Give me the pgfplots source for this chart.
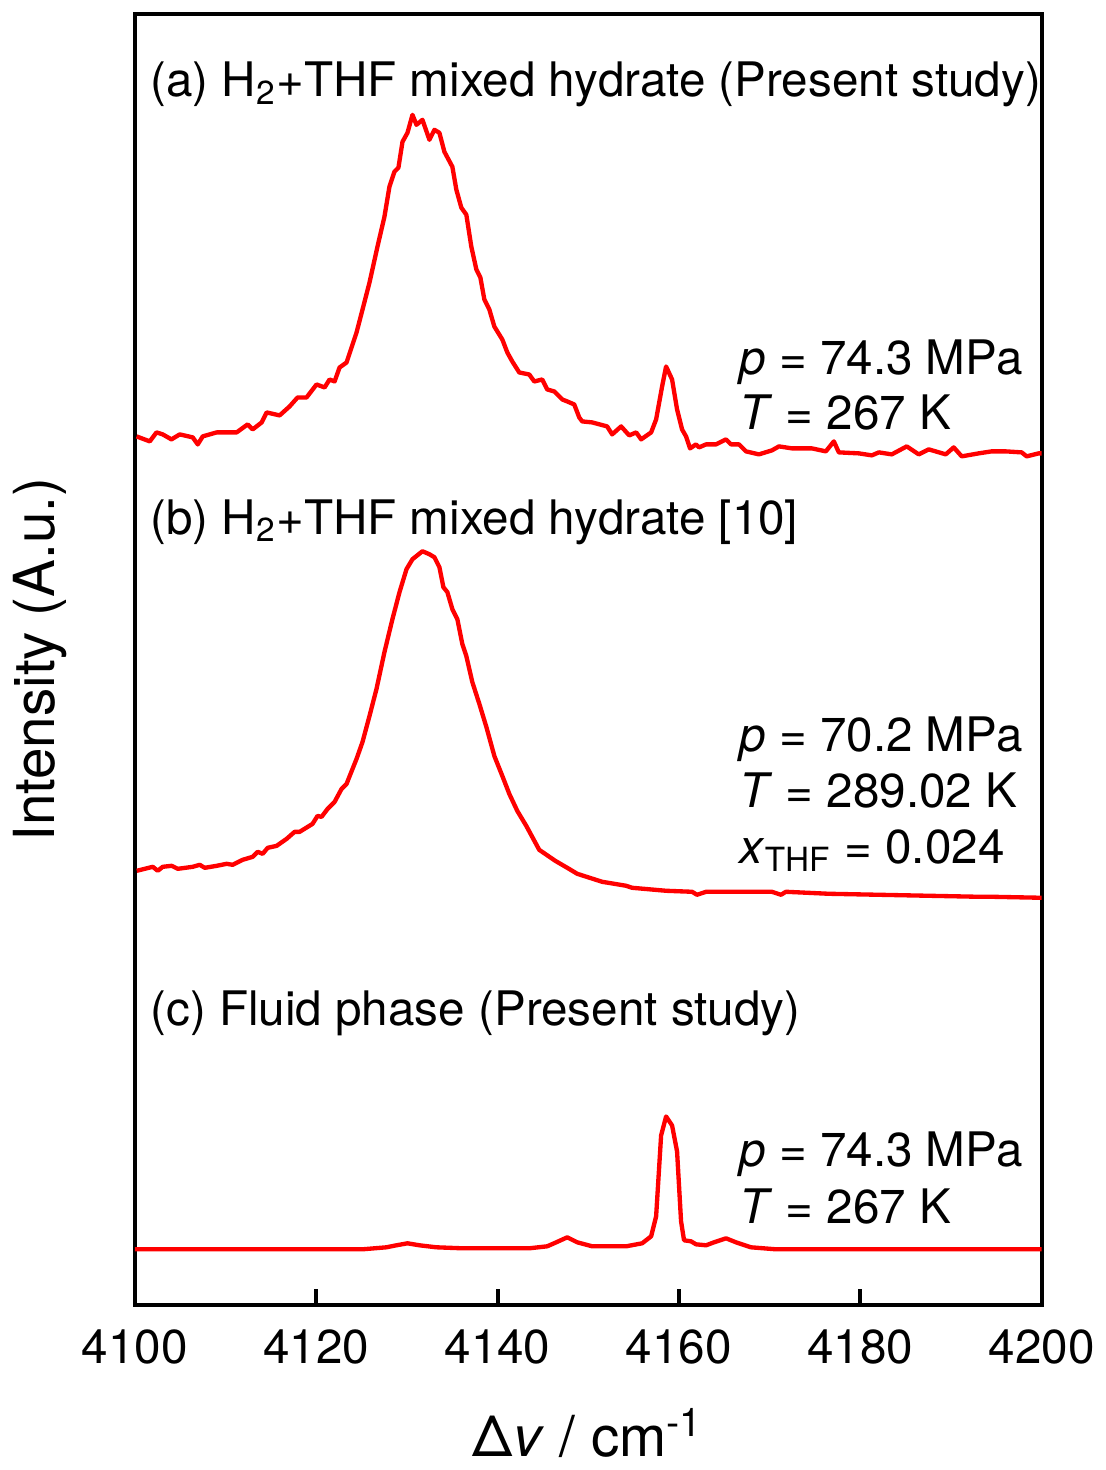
\documentclass[border=0pt]{standalone}
\usepackage{pgfplots}
\pgfplotsset{compat=1.18}
\usepackage{fontspec}
\setmainfont{TeX Gyre Heros}
\definecolor{specred}{RGB}{255,0,0}
\newcommand{\lbl}{\fontsize{14.3}{17}\selectfont}
\newcommand{\axl}{\fontsize{17}{20}\selectfont}
\tikzset{
  spec/.style={specred, line width=1.3pt, line join=round},
  txt/.style={font=\lbl, anchor=base west, inner sep=0pt},
}

\begin{document}
\begin{tikzpicture}
\begin{axis}[
  scale only axis, width=272.4pt, height=387.9pt,
  xmin=4100, xmax=4200, ymin=0, ymax=1293,
  xtick={4100,4120,...,4200}, ytick=\empty,
  xtick pos=bottom, tick align=inside, major tick length=5pt,
  tick style={line width=1.2pt, black},
  axis line style={line width=1.2pt},
  /pgf/number format/assume math mode=true,
  /pgf/number format/set thousands separator={},
  xticklabel style={font=\lbl, anchor=base, yshift=-17.4pt},
  xlabel={Δ\textit{v} / cm\textsuperscript{-1}},
  ylabel={Intensity (A.u.)},
  xlabel style={font=\axl, at={(axis description cs:0.5,-0.1175)}, anchor=base, inner sep=0pt},
  ylabel style={font=\axl, at={(axis description cs:-0.0738,0.5)}, anchor=south, inner sep=0pt},
]
% (a) H2+THF mixed hydrate, present study
\addplot[spec] coordinates {
 (4100.19,870) (4101.65,865) (4102.39,874) (4103.08,872) (4104.04,867) (4104.96,872)
 (4106.39,869) (4106.94,862) (4107.49,870) (4109.03,874) (4110.13,874) (4111.23,874)
 (4112.44,882) (4113.00,877) (4113.99,884) (4114.54,894) (4115.97,891) (4117.07,900)
 (4117.95,909) (4118.94,909) (4120.04,922) (4120.93,919) (4121.48,927) (4122.03,925)
 (4122.58,939) (4123.35,944) (4124.45,974) (4125.11,997) (4125.88,1024) (4126.76,1060)
 (4127.53,1090) (4128.08,1120) (4128.63,1135) (4129.07,1139) (4129.52,1165) (4130.07,1174)
 (4130.62,1192) (4131.06,1182) (4131.72,1187) (4132.49,1167) (4133.04,1177) (4133.59,1174)
 (4134.14,1155) (4135.02,1140) (4135.46,1117) (4136.01,1099) (4136.56,1092) (4137.11,1060)
 (4137.67,1037) (4138.11,1029) (4138.55,1007) (4139.10,997) (4139.65,980) (4140.53,967)
 (4141.08,954) (4141.63,945) (4142.40,934) (4143.50,932) (4144.05,925) (4144.93,927)
 (4145.48,917) (4146.26,915) (4147.14,907) (4147.69,905) (4148.46,902) (4149.01,889)
 (4149.34,885) (4150.44,884) (4152.09,880) (4152.64,872) (4153.63,880) (4154.52,871)
 (4155.29,874) (4155.84,867) (4156.94,874) (4157.49,887) (4158.15,920) (4158.59,940)
 (4159.25,927) (4159.80,897) (4160.35,877) (4160.79,870) (4161.23,858) (4161.89,862)
 (4162.22,859) (4163.00,862) (4164.10,862) (4165.20,867) (4165.75,862) (4166.63,862)
 (4167.40,855) (4168.83,852) (4170.26,856) (4171.04,860) (4172.47,858) (4174.67,858)
 (4176.21,855) (4177.09,865) (4177.64,854) (4179.85,853) (4181.28,851) (4182.05,854)
 (4183.48,852) (4185.13,860) (4186.45,852) (4187.56,857) (4189.43,852) (4190.31,859)
 (4191.19,850) (4193.06,853) (4194.49,855) (4196.04,855) (4197.80,854) (4198.35,850)
 (4199.67,853) (4200,853)
};
% (b) H2+THF mixed hydrate [10]
\addplot[spec] coordinates {
 (4100.22,435) (4101.98,439) (4102.53,435) (4103.08,439) (4104.07,440) (4104.74,437)
 (4106.39,439) (4107.16,441) (4107.71,438) (4109.03,440) (4110.13,442) (4110.79,441)
 (4111.89,446) (4113.00,449) (4113.55,454) (4114.10,452) (4114.65,458) (4115.64,460)
 (4116.74,467) (4117.62,474) (4118.17,474) (4119.60,482) (4120.15,490) (4120.59,489)
 (4121.26,497) (4122.03,504) (4122.80,517) (4123.35,522) (4124.45,547) (4125.11,564)
 (4125.88,590) (4126.65,617) (4127.53,654) (4128.41,687) (4129.19,714) (4129.96,737)
 (4130.62,747) (4131.72,755) (4132.49,752) (4133.04,749) (4133.59,739) (4134.03,719)
 (4134.47,714) (4135.02,697) (4135.57,687) (4136.12,662) (4136.56,650) (4137.22,624)
 (4138.00,602) (4138.77,579) (4139.65,550) (4140.53,530) (4141.30,512) (4142.18,495)
 (4143.17,480) (4144.60,456) (4146.37,445) (4147.69,438) (4148.79,432) (4151.54,424)
 (4154.19,420) (4154.85,418) (4158.59,415) (4161.45,414) (4162.00,411) (4163.00,414)
 (4165.86,414) (4170.26,414) (4171.26,411) (4171.81,414) (4176.54,412) (4182.05,411)
 (4187.56,410) (4193.06,409) (4194.49,409) (4200,408)
};
% (c) fluid phase
\addplot[spec] coordinates {
 (4100,56) (4125.11,56) (4127.75,58) (4128.85,60) (4130.07,62) (4131.39,60) (4133.26,58)
 (4136.12,57) (4143.50,57) (4145.48,59) (4146.48,63) (4147.69,68) (4148.79,63)
 (4150.44,59) (4154.19,59) (4155.95,62) (4156.94,69) (4157.49,89) (4158.04,170)
 (4158.59,189) (4159.25,180) (4159.80,154) (4160.24,84) (4160.57,65) (4161.34,64)
 (4161.89,61) (4163.00,60) (4163.88,63) (4165.20,67) (4166.30,63) (4167.95,58)
 (4170.70,56) (4200,56)
};
% annotations
\node[txt] at (axis cs:4101.65,1210) {(a) H\textsubscript{2}+THF mixed hydrate (Present study)};
\node[txt] at (axis cs:4166.6,932) {\textit{p} = 74.3 MPa};
\node[txt] at (axis cs:4166.6,877) {\textit{T} = 267 K};
\node[txt] at (axis cs:4101.65,772) {(b) H\textsubscript{2}+THF mixed hydrate [10]};
\node[txt] at (axis cs:4166.6,554) {\textit{p} = 70.2 MPa};
\node[txt] at (axis cs:4166.6,498) {\textit{T} = 289.02 K};
\node[txt] at (axis cs:4166.6,442) {\textit{x}\textsubscript{THF} = 0.024};
\node[txt] at (axis cs:4101.65,280) {(c) Fluid phase (Present study)};
\node[txt] at (axis cs:4166.6,139) {\textit{p} = 74.3 MPa};
\node[txt] at (axis cs:4166.6,82) {\textit{T} = 267 K};
\end{axis}
\path ([shift={(-40.5pt,-49.5pt)}]current axis.south west);
\path ([shift={(291.6pt,4.2pt)}]current axis.north west);
\end{tikzpicture}
\end{document}
